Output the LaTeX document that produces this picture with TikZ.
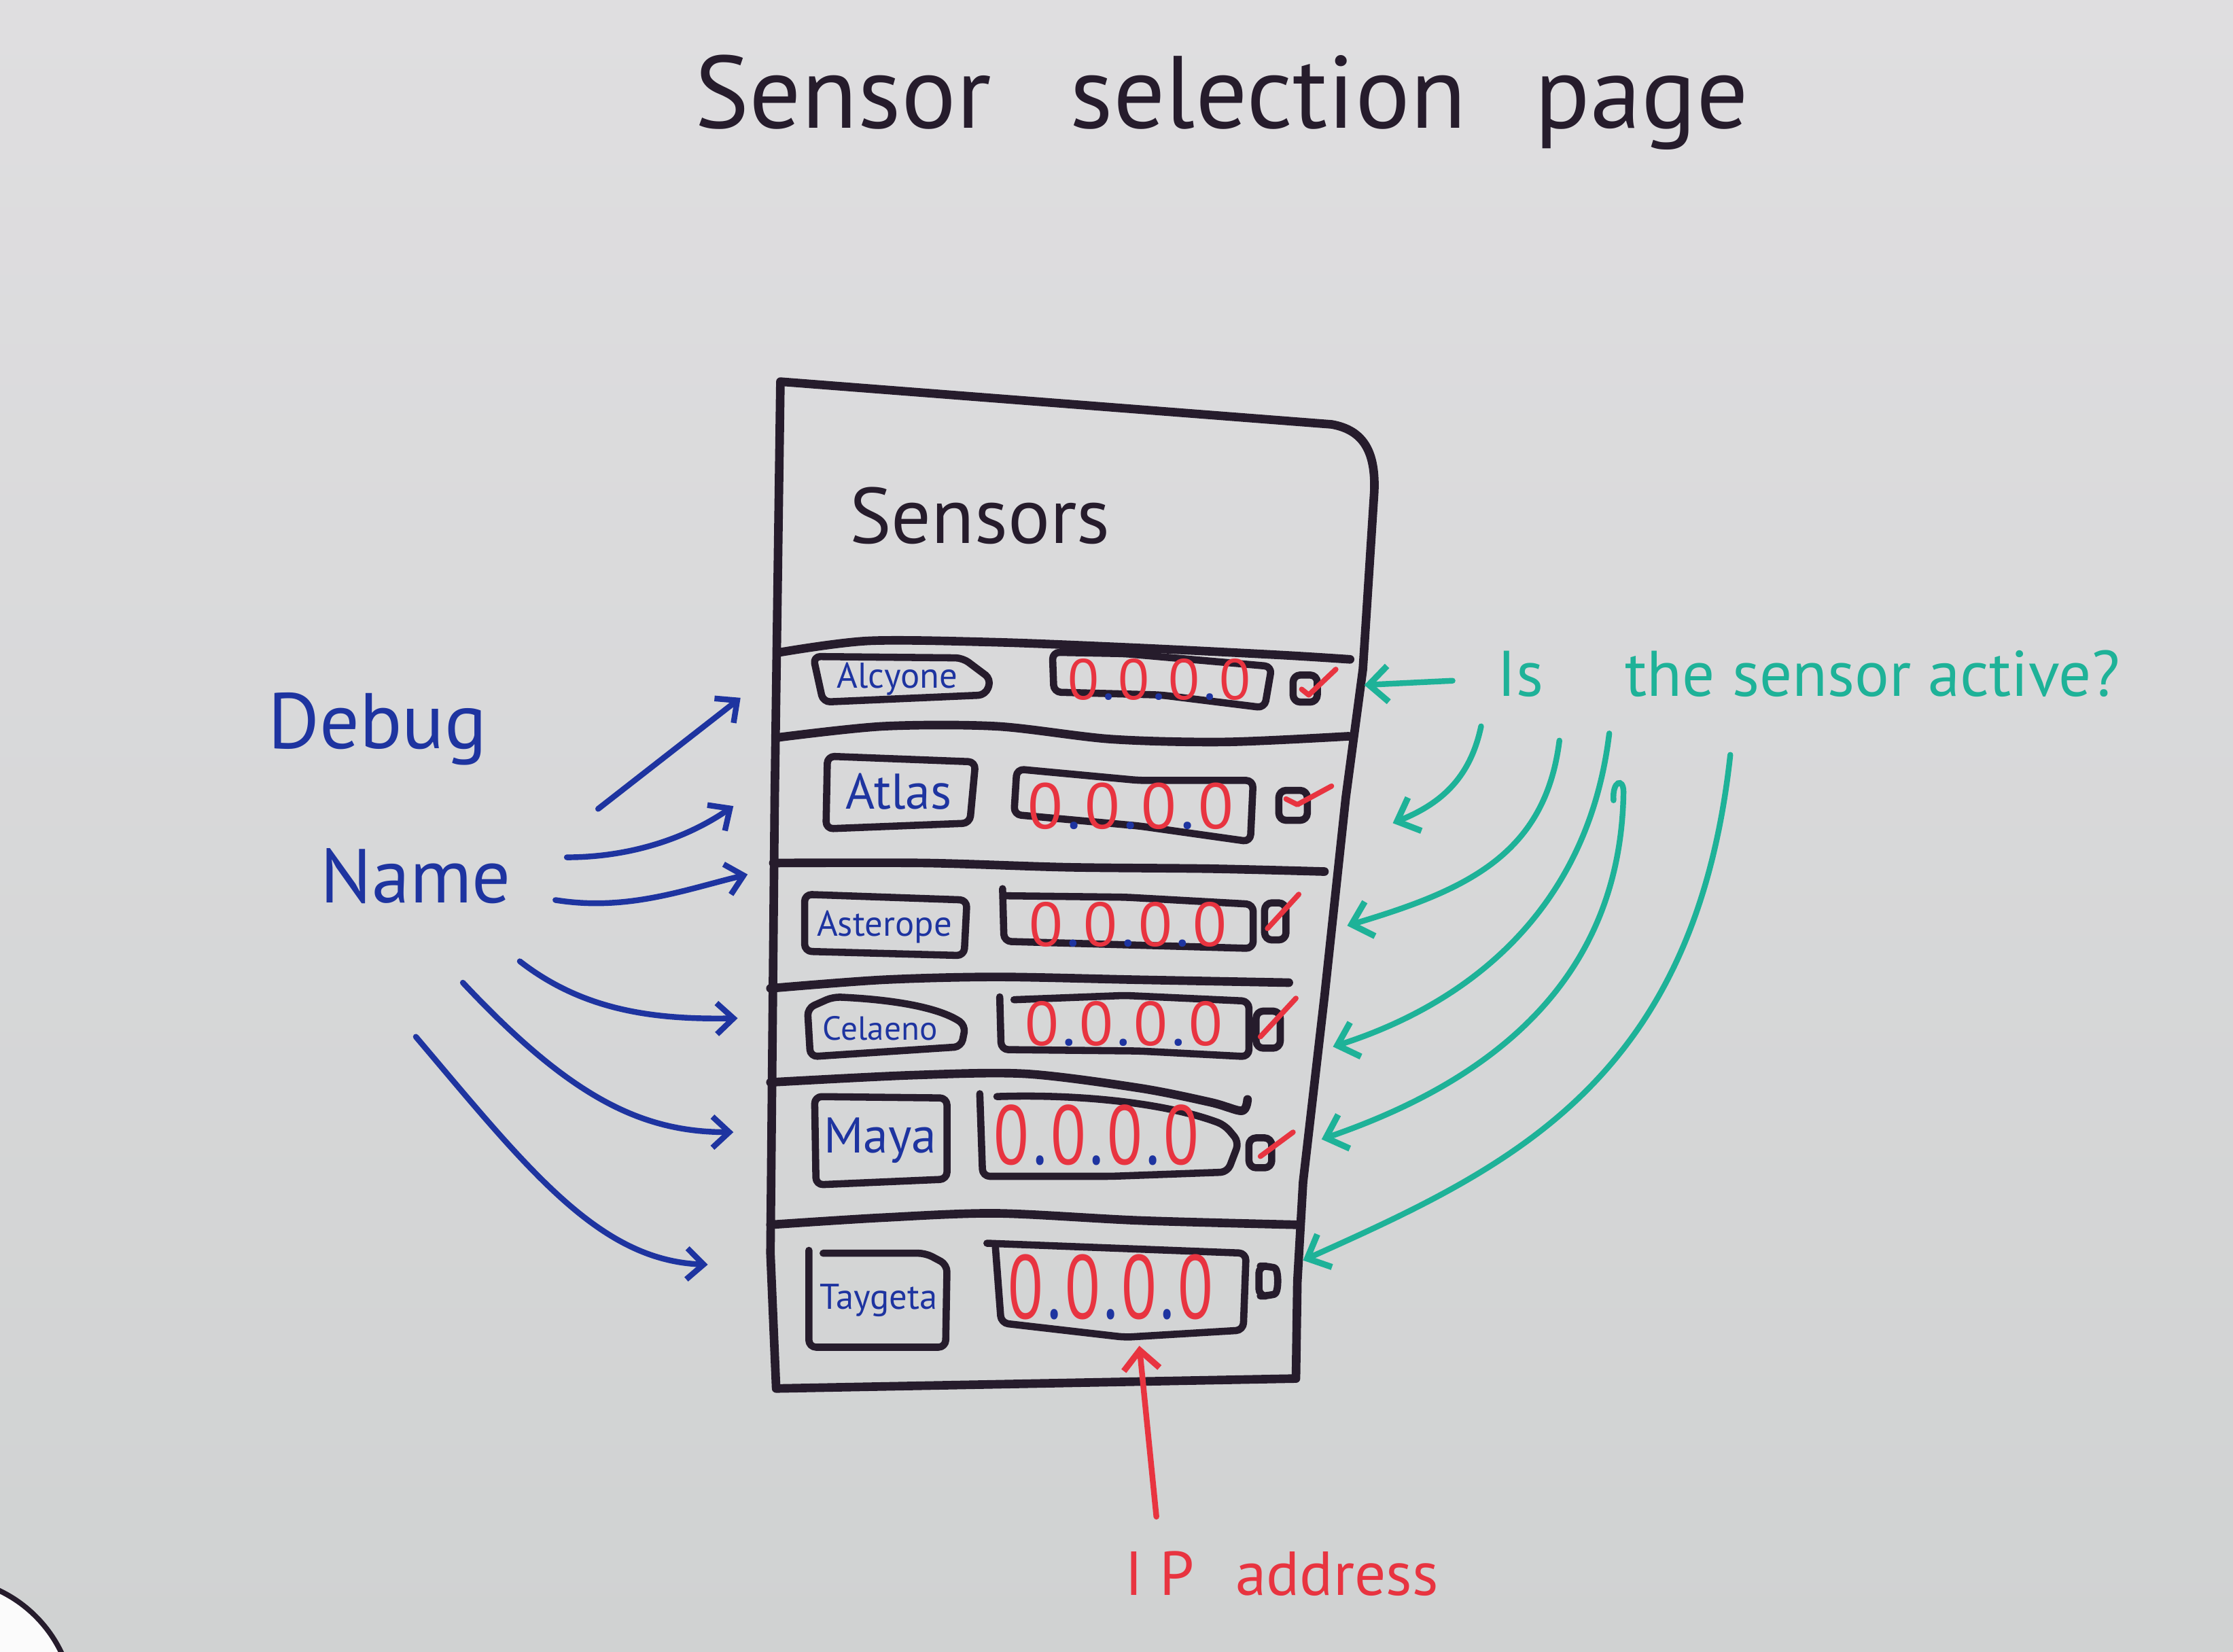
\documentclass[tikz,border=0pt]{standalone}
\usepackage{fontspec}
\newfontfamily\hand{PT Sans}
\usetikzlibrary{arrows.meta}

\definecolor{boardtop}{RGB}{223,222,224}
\definecolor{boardbot}{RGB}{208,210,210}
\definecolor{ink}{RGB}{38,28,44}
\definecolor{bluink}{RGB}{30,52,160}
\definecolor{redink}{RGB}{232,52,64}
\definecolor{tealink}{RGB}{30,178,152}

% an address field: red zeros, blue dots
\newcommand\zeroaddr{{\color{redink}0}\kern0.06em{\color{bluink}.}\kern0.06em{\color{redink}0}\kern0.06em{\color{bluink}.}\kern0.06em{\color{redink}0}\kern0.06em{\color{bluink}.}\kern0.06em{\color{redink}0}}

\tikzset{
  frameline/.style={draw=ink, line width=3.6pt, line cap=round, line join=round},
  boxline/.style={draw=ink, line width=3pt, line cap=round, line join=round, rounded corners=3pt},
  checkline/.style={draw=redink, line width=2.2pt, line cap=round, line join=round},
  bluearrow/.style={draw=bluink, line width=2.4pt, line cap=round,
    -{Straight Barb[length=7pt,width=13pt,line width=2.4pt]}},
  tealarrow/.style={draw=tealink, line width=2.4pt, line cap=round,
    -{Straight Barb[length=8pt,width=15pt,line width=2.6pt]}},
  redarrow/.style={draw=redink, line width=2.4pt, line cap=round,
    -{Straight Barb[length=8pt,width=15pt,line width=2.6pt]}},
  handtext/.style={font=\hand, inner sep=0pt, anchor=center},
  namelabel/.style={handtext, text=bluink},
  addrlabel/.style={handtext},
}

\begin{document}
\begin{tikzpicture}[x=0.020957cm, y=-0.020957cm]
  % whiteboard
  \useasboundingbox (0,0) rectangle (1568,1160);
  \shade[top color=boardtop, bottom color=boardbot] (0,0) rectangle (1568,1160);
  % magnet in the corner
  \begin{scope}
    \clip (0,0) rectangle (1568,1160);
    \filldraw[fill=white!92!boardbot, draw=ink, line width=2.2pt] (-40,1200) circle (92);
  \end{scope}

  % headings
  \node[handtext, text=ink, font=\hand\fontsize{43}{48}\selectfont] (title) at (858,72) {Sensor\hspace{0.5em} selection\hspace{0.4em} page};

  % page frame
  \draw[frameline] (548,268) -- (935,298) .. controls (958,302) and (966,318) .. (965,345)
     -- (957,470) -- (945,560) -- (930,700) -- (915,830) -- (911,900) -- (910,968)
     -- (545,975) -- (541,880) -- (544,560) -- cycle;
  \node[handtext, text=ink, font=\hand\fontsize{33}{36}\selectfont] (sensors) at (688,362) {Sensors};

  % row separators
  \draw[frameline] plot[smooth] coordinates {(548,458) (610,450) (700,451) (800,455) (900,460) (948,463)};
  \draw[frameline] plot[smooth] coordinates {(545,518) (620,510) (700,510) (780,519) (860,521) (947,517)};
  \draw[frameline] plot[smooth] coordinates {(543,606) (650,606) (750,609) (850,610) (930,612)};
  \draw[frameline] plot[smooth] coordinates {(541,694) (620,688) (700,686) (800,688) (905,690)};
  \draw[frameline] plot[smooth] coordinates {(541,760) (640,755) (720,754) (800,764) (850,774) (872,780) (876,772)};
  \draw[frameline] plot[smooth] coordinates {(541,860) (620,855) (700,852) (800,857) (910,860)};

  % row 1
  \draw[boxline] (571,461) -- (676,462) -- (696,477) -- (692,488) -- (578,493) -- cycle;
  \node[namelabel, font=\hand\fontsize{15}{18}\selectfont] (n1) at (630,477) {Alcyone};
  \draw[boxline] (739,458) -- (740,486) -- (815,488) -- (888,497) -- (893,468) -- (790,459) -- cycle;
  \node[addrlabel, font=\hand\fontsize{24}{28}\selectfont] (ip1) at (814,477) {\zeroaddr};
  \draw[boxline] (908,474) rectangle (925,493);
  \draw[checkline] (914,484) -- (919,488) -- (938,470);

  % row 2
  \draw[boxline] (581,531) -- (685,535) -- (681,578) -- (580,582) -- cycle;
  \node[namelabel, font=\hand\fontsize{21}{24}\selectfont] (n2) at (631,556) {Atlas};
  \draw[boxline] (714,540) -- (712,572) -- (800,580) -- (878,591) -- (880,548) -- (800,548) -- cycle;
  \node[addrlabel, font=\hand\fontsize{27}{30}\selectfont] (ip2) at (794,566) {\zeroaddr};
  \draw[boxline] (898,555) rectangle (918,576);
  \draw[checkline] (903,561) -- (911,565) -- (935,552);

  % row 3
  \draw[boxline] (565,628) -- (679,632) -- (677,671) -- (565,668) -- cycle;
  \node[namelabel, font=\hand\fontsize{15}{18}\selectfont] (n3) at (621,651) {Asterope};
  \draw[boxline] (704,624) -- (705,661) -- (880,666) -- (880,635) -- (790,630) -- (706,629);
  \node[addrlabel, font=\hand\fontsize{26}{29}\selectfont] (ip3) at (792,649) {\zeroaddr};
  \draw[boxline] (888,634) rectangle (903,660);
  \draw[checkline] (890,652) -- (912,628);

  % row 4
  \draw[boxline] (567,708) -- (585,700) .. controls (630,702) and (660,708) .. (678,720) -- (675,735) -- (569,742) -- cycle;
  \node[namelabel, font=\hand\fontsize{14}{17}\selectfont] (n4) at (618,722) {Celaeno};
  \draw[boxline] (702,700) -- (703,737) -- (800,738) -- (877,742) -- (877,703) -- (790,699) -- (712,702);
  \node[addrlabel, font=\hand\fontsize{26}{29}\selectfont] (ip4) at (789,719) {\zeroaddr};
  \draw[boxline] (882,710) rectangle (899,736);
  \draw[checkline] (885,728) -- (910,701);

  % row 5
  \draw[boxline] (572,770) -- (665,771) -- (665,828) -- (573,832) -- cycle;
  \node[namelabel, font=\hand\fontsize{21}{25}\selectfont] (n5) at (618,801) {Maya};
  \draw[boxline] (688,768) -- (690,826) -- (780,826) -- (862,823) -- (870,802) -- (860,790) .. controls (820,775) and (760,768) .. (700,770);
  \node[addrlabel, font=\hand\fontsize{27}{30}\selectfont] (ip5) at (770,797) {\scalebox{1}[1.3]{\zeroaddr}};
  \draw[boxline] (877,799) rectangle (893,820);
  \draw[checkline] (885,812) -- (908,795);

  % row 6
  \draw[boxline] (568,878) -- (568,946) -- (664,946) -- (665,888) -- (650,880) -- (578,880);
  \node[namelabel, font=\hand\fontsize{15}{18}\selectfont] (n6) at (617,913) {Taygeta};
  \draw[boxline] (693,873) -- (875,880) -- (873,934) -- (790,939) -- (703,929) -- (699,876);
  \node[addrlabel, font=\hand\fontsize{27}{30}\selectfont] (ip6) at (780,904) {\scalebox{1}[1.4]{\zeroaddr}};
  \draw[boxline] (884,889) -- (884,910) -- (890,910) .. controls (898,908) and (898,891) .. (890,889) -- cycle;

  % debug-name annotations
  \node[handtext, text=bluink, font=\hand\fontsize{33}{36}\selectfont] (debug) at (265,512) {Debug};
  \node[handtext, text=bluink, font=\hand\fontsize{32}{35}\selectfont] (namelbl) at (292,615) {Name};
  \coordinate (ds1) at (420,568);  \coordinate (de1) at (520,490);
  \coordinate (ds2) at (398,602);  \coordinate (de2) at (515,566);
  \coordinate (ds3) at (390,632);  \coordinate (de3) at (525,614);
  \coordinate (ds4) at (365,675);  \coordinate (de4) at (518,715);
  \coordinate (ds5) at (325,690);  \coordinate (de5) at (515,795);
  \coordinate (ds6) at (292,728);  \coordinate (de6) at (497,888);
  \draw[bluearrow] (ds1) -- (de1);
  \draw[bluearrow] (ds2) .. controls (440,602) and (480,590) .. (de2);
  \draw[bluearrow] (ds3) .. controls (440,640) and (480,625) .. (de3);
  \draw[bluearrow] (ds4) .. controls (410,710) and (460,716) .. (de4);
  \draw[bluearrow] (ds5) .. controls (400,770) and (450,795) .. (de5);
  \draw[bluearrow] (ds6) .. controls (370,820) and (420,885) .. (de6);

  % active-state annotations
  \node[handtext, text=tealink, font=\hand\fontsize{27}{30}\selectfont] (active) at (1270,473) {Is\hspace{1em} the sensor active?};
  \coordinate (ts0) at (1020,478); \coordinate (te0) at (958,481);
  \coordinate (ts1) at (1040,510); \coordinate (te1) at (978,578);
  \coordinate (ts2) at (1095,520); \coordinate (te2) at (946,650);
  \coordinate (ts3) at (1130,515); \coordinate (te3) at (936,735);
  \coordinate (ts4) at (1140,556); \coordinate (te4) at (928,800);
  \coordinate (ts5) at (1215,530); \coordinate (te5) at (915,885);
  \draw[tealarrow] (ts0) -- (te0);
  \draw[tealarrow] (ts1) .. controls (1032,548) and (1010,565) .. (te1);
  \draw[tealarrow] (ts2) .. controls (1085,600) and (1030,625) .. (te2);
  \draw[tealarrow] (ts3) .. controls (1115,640) and (1030,705) .. (te3);
  \draw[tealink, line width=2.4pt, line cap=round] (1133,562) .. controls (1132,548) and (1140,546) .. (ts4);
  \draw[tealarrow] (ts4) .. controls (1138,700) and (1030,765) .. (te4);
  \draw[tealarrow] (ts5) .. controls (1190,760) and (1060,820) .. (te5);

  % address annotation
  \node[handtext, text=redink, font=\hand\fontsize{26}{29}\selectfont] (addr) at (900,1105) {I P\hspace{0.4em} address};
  \coordinate (rs) at (812,1065); \coordinate (re) at (800,945);
  \draw[redarrow] (rs) -- (re);
\end{tikzpicture}
\end{document}
